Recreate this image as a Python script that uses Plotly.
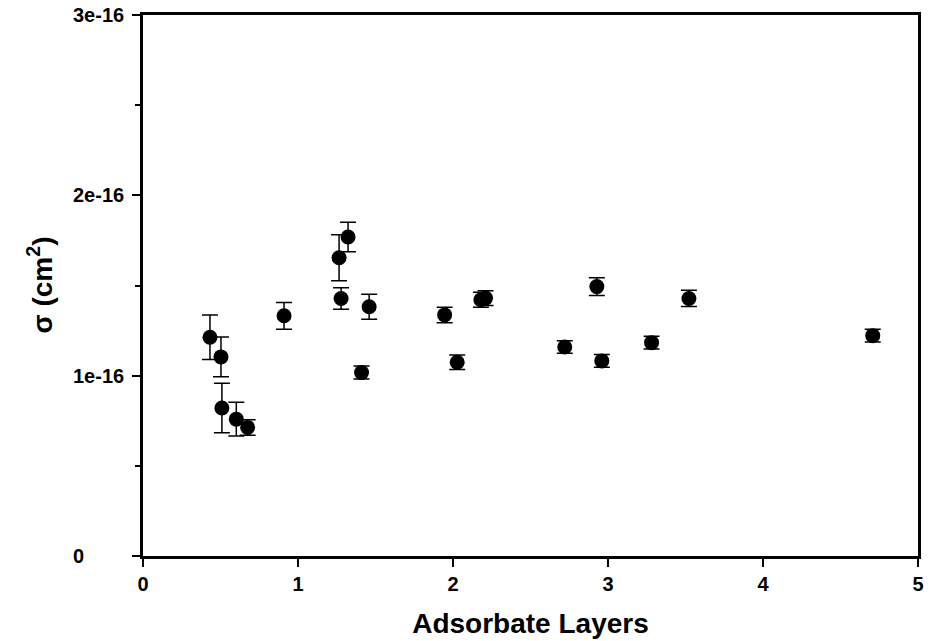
import plotly.graph_objects as go

# Cross-section vs. adsorbate coverage
layers = [0.432, 0.503, 0.509, 0.602, 0.675, 0.910, 1.265, 1.323, 1.278, 1.459,
          1.410, 1.946, 2.027, 2.180, 2.210, 2.721, 2.928, 2.960, 3.281, 3.522, 4.708]
sigma = [1.213e-16, 1.104e-16, 0.821e-16, 0.759e-16, 0.713e-16, 1.332e-16,
         1.654e-16, 1.769e-16, 1.428e-16, 1.382e-16, 1.017e-16, 1.337e-16,
         1.074e-16, 1.421e-16, 1.430e-16, 1.159e-16, 1.494e-16, 1.082e-16,
         1.183e-16, 1.428e-16, 1.222e-16]
sigma_err = [0.123e-16, 0.110e-16, 0.137e-16, 0.093e-16, 0.043e-16, 0.074e-16,
             0.128e-16, 0.082e-16, 0.060e-16, 0.069e-16, 0.036e-16, 0.043e-16,
             0.040e-16, 0.041e-16, 0.041e-16, 0.035e-16, 0.049e-16, 0.036e-16,
             0.035e-16, 0.045e-16, 0.036e-16]

x_ticks = [0, 1, 2, 3, 4, 5]
x_tick_labels = ["0", "1", "2", "3", "4", "5"]
y_ticks = [0, 1e-16, 2e-16, 3e-16]
y_tick_labels = ["0", "1e-16", "2e-16", "3e-16"]

FONT = "Liberation Sans, Arial, sans-serif"
W, H = 931, 641
ML, MR, MT, MB = 143, 13, 15, 85
plot_w = W - ML - MR

fig = go.Figure()
fig.add_trace(go.Scatter(
    x=layers, y=sigma, mode="markers",
    marker=dict(color="black", size=15, line=dict(width=0)),
    error_y=dict(type="data", array=sigma_err, visible=True,
                 color="black", thickness=1.5, width=8),
    showlegend=False,
))

# Left-aligned y tick labels
for v, t in zip(y_ticks, y_tick_labels):
    fig.add_annotation(
        x=(71 - ML) / plot_w, xref="paper", xanchor="left",
        y=v, yref="y", yanchor="middle",
        text="<b>" + t + "</b>", showarrow=False,
        font=dict(family=FONT, size=20, color="black"),
    )

# y axis title
fig.add_annotation(
    x=(40 - ML) / plot_w, xref="paper", xanchor="center",
    y=0.5, yref="paper", yanchor="middle",
    text="<b>σ (cm<sup>2</sup>)</b>", textangle=-90, showarrow=False,
    font=dict(family=FONT, size=28, color="black"),
)

fig.update_layout(
    width=W, height=H,
    margin=dict(l=ML, r=MR, t=MT, b=MB),
    paper_bgcolor="white", plot_bgcolor="white",
    font=dict(family=FONT, color="black"),
    xaxis=dict(
        range=[0, 5], tickvals=x_ticks,
        ticktext=["<b>" + t + "</b>" for t in x_tick_labels],
        ticks="outside", ticklen=8, tickwidth=1.5, tickcolor="black",
        showline=True, linecolor="black", linewidth=3, mirror=True,
        showgrid=False, zeroline=False, automargin=False,
        tickfont=dict(family=FONT, size=20, color="black"),
        title=dict(text="<b>Adsorbate Layers</b>", standoff=20,
                   font=dict(family=FONT, size=28, color="black")),
    ),
    yaxis=dict(
        range=[0, 3e-16], tickvals=y_ticks, ticks="outside", ticklen=8,
        tickwidth=1.5, tickcolor="black", showticklabels=False,
        minor=dict(dtick=0.5e-16, ticks="outside", ticklen=5,
                   tickwidth=1.5, tickcolor="black", showgrid=False),
        showline=True, linecolor="black", linewidth=3, mirror=True,
        showgrid=False, zeroline=False, automargin=False,
    ),
)

fig.write_html("out.html")
